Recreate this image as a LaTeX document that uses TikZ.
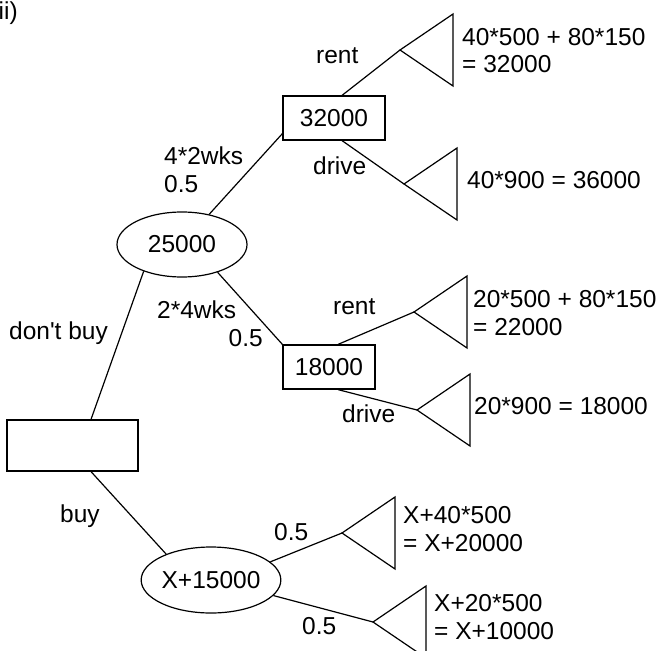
\documentclass[tikz,border=0pt]{standalone}
\usepackage{fontspec}
\setmainfont{Liberation Sans}[Ligatures=TeXOff]
\usetikzlibrary{shapes.geometric}

\tikzset{
  every node/.style={inner sep=0pt, font=\fontsize{24.5pt}{28pt}\selectfont},
  edge/.style={line width=1.2pt},
  decbox/.style={draw, line width=1.2pt, rectangle},
  chance/.style={draw, line width=1.2pt, ellipse, minimum width=130pt, minimum height=65pt},
  lbl/.style={anchor=base west},
  payoff/.pic={\draw[line width=1.2pt] (0,0) -- (53,-36) -- (53,36) -- cycle;}
}

\begin{document}
\begin{tikzpicture}[x=1pt, y=-1pt]
\useasboundingbox (0,0) rectangle (663,650);

% heading
\node[lbl] (title) at (-1.5,19.5) {ii)};

% decision and chance nodes
\node[decbox, minimum width=131pt, minimum height=51pt] (dec) at (72.5,445.5) {};
\node[chance] (e1) at (182,244.5) {25000};
\node[chance, minimum width=128pt, minimum height=66pt] (e2) at (211,580) {X+15000};
\node[decbox, minimum width=102pt, minimum height=44pt] (b32) at (334,118) {32000};
\node[decbox, minimum width=92pt, minimum height=44pt] (b18) at (329,367) {18000};

% terminal points (apex of each triangle)
\coordinate (t1) at (400,50);
\coordinate (t2) at (404,184);
\coordinate (t3) at (414,312);
\coordinate (t4) at (417,410);
\coordinate (t5) at (342,533);
\coordinate (t6) at (373,622);
\foreach \t in {t1,t2,t3,t4,t5,t6} \pic at (\t) {payoff};

% branches
\draw[edge] ([xshift=18.5pt]dec.north) -- (e1.215);
\draw[edge] ([xshift=18.5pt]dec.south) -- (e2.150);
\draw[edge] (e1.48) -- ([yshift=7pt]b32.south west);
\draw[edge] (e1.-38) -- (b18.north west);
\draw[edge] ([xshift=8pt]b32.north) -- (t1);
\draw[edge] ([xshift=8pt]b32.south) -- (t2);
\draw[edge] ([xshift=9pt]b18.north) -- (t3);
\draw[edge] ([xshift=9pt]b18.south) -- (t4);
\draw[edge] (e2.17) -- (t5);
\draw[edge] (e2.-14) -- (t6);

% branch labels
\node[lbl] (lrent1) at (316,64) {rent};
\node[lbl] (ldrive1) at (313,174) {drive};
\node[lbl] (lwk1) at (164,164) {4*2wks};
\node[lbl] (lp1) at (164,192) {0.5};
\node[lbl] (ldont) at (9,339) {don't buy};
\node[lbl] (lwk2) at (157,318) {2*4wks};
\node[anchor=base east] (lp2) at (263,346) {0.5};
\node[lbl] (lrent2) at (333,314) {rent};
\node[lbl] (ldrive2) at (342,422) {drive};
\node[lbl] (lbuy) at (60,522) {buy};
\node[lbl] (lp3) at (274,540) {0.5};
\node[lbl] (lp4) at (302,634) {0.5};

% payoffs
\node[lbl] (v1a) at (462,46) {40*500 + 80*150};
\node[lbl] (v1b) at (462,73) {= 32000};
\node[lbl] (v2) at (467,188) {40*900 = 36000};
\node[lbl] (v3a) at (473,307) {20*500 + 80*150};
\node[lbl] (v3b) at (473,335) {= 22000};
\node[lbl] (v4) at (474,414) {20*900 = 18000};
\node[lbl] (v5a) at (403,523) {X+40*500};
\node[lbl] (v5b) at (403,551) {= X+20000};
\node[lbl] (v6a) at (434,611) {X+20*500};
\node[lbl] (v6b) at (434,639) {= X+10000};
\end{tikzpicture}
\end{document}
